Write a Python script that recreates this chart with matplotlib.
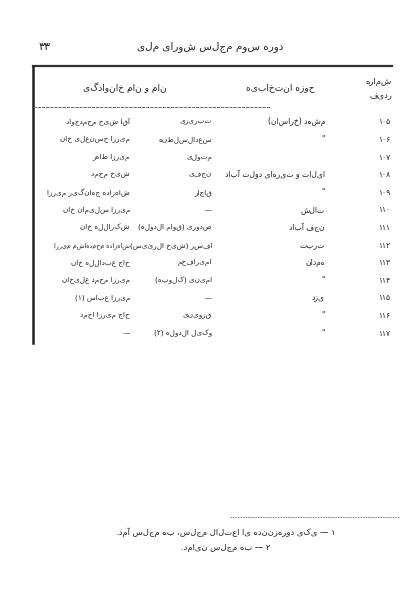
import matplotlib.pyplot as plt

def rtl(s):
    # no shaping available, just put letters in visual order and mirror brackets
    s = s[::-1]
    return s.translate(str.maketrans('()', ')('))

nums = ['۱۰۵','۱۰۶','۱۰۷','۱۰۸','۱۰۹','۱۱۰','۱۱۱','۱۱۲','۱۱۳','۱۱۴','۱۱۵','۱۱۶','۱۱۷']
districts = ['مشهد (خراسان)', '"', '', 'ایلات و تیرهای دولت آباد', '"', 'تالش', 'نجف آباد',
             'تربت', 'همدان', '"', 'یزد', '"', '"']
titles = ['تبریزی', 'سعدالسلطنه', 'متولی', 'نجفی', 'قاجار', '—', 'صدوری (قوام الدوله)',
          'افسر (شیخ الرئیس)', 'امیرافخم', 'امینی (کلوپه)', '—', 'قزوینی', 'وکیل الدوله (۲)']
names = ['آقا شیخ محمدجواد', 'میرزا حسنعلی خان', 'میرزا طاهر', 'شیخ محمد', 'شاهزاده جهانگیر میرزا',
         'میرزا سلیمان خان', 'شکرالله خان', 'شاهزاده محمدهاشم میرزا', 'حاج عبدالله خان',
         'میرزا محمد علیخان', 'میرزا عباس (۱)', 'حاج میرزا احمد', '—']
notes = ['۱ — یکی دوره‌زننده یا اعتلال مجلس، به مجلس آمد.', '۲ — به مجلس نیامد.']

fig = plt.figure(figsize=(4.16, 5.98), dpi=100)
ax = fig.add_axes([0, 0, 1, 1])
ax.set_xlim(0, 416)
ax.set_ylim(598, 0)
ax.axis('off')
kw = dict(family='DejaVu Sans', color='#222222', va='center')

ax.text(45, 47, '۳۳', fontsize=8, ha='center', **kw)
ax.text(210, 47, rtl('دوره سوم مجلس شورای ملی'), fontsize=7.5, ha='center', **kw)

ax.plot([33, 392], [66, 66], color='#333333', lw=1.6)
ax.plot([33, 33], [66, 343], color='#222222', lw=1.8)
ax.plot([33, 270], [107, 107], color='#555555', lw=0.6, ls=(0, (4, 1)))

ax.text(392, 82, rtl('شماره'), fontsize=6, ha='right', **kw)
ax.text(392, 96, rtl('ردیف'), fontsize=6, ha='right', **kw)
ax.text(280, 88, rtl('حوزه انتخابیه'), fontsize=6.5, ha='center', **kw)
ax.text(125, 88, rtl('نام و نام خانوادگی'), fontsize=6.5, ha='center', **kw)

for i in range(len(nums)):
    y = 122 + i * 17.6
    ax.text(390, y, nums[i], fontsize=5.5, ha='right', **kw)
    ax.text(325, y, rtl(districts[i]), fontsize=5.5, ha='right', **kw)
    ax.text(212, y, rtl(titles[i]), fontsize=5.2, ha='right', **kw)
    ax.text(130, y, rtl(names[i]), fontsize=5.2 if len(names[i]) < 22 else 4.6,
            ha='right', **kw)

ax.plot([230, 400], [517, 517], color='#777777', lw=0.6, ls=(0, (2, 1)))
ax.text(336, 532, rtl(notes[0]), fontsize=6, ha='right', **kw)
ax.text(270, 548, rtl(notes[1]), fontsize=6, ha='right', **kw)

fig.savefig('out.png', dpi=100)
